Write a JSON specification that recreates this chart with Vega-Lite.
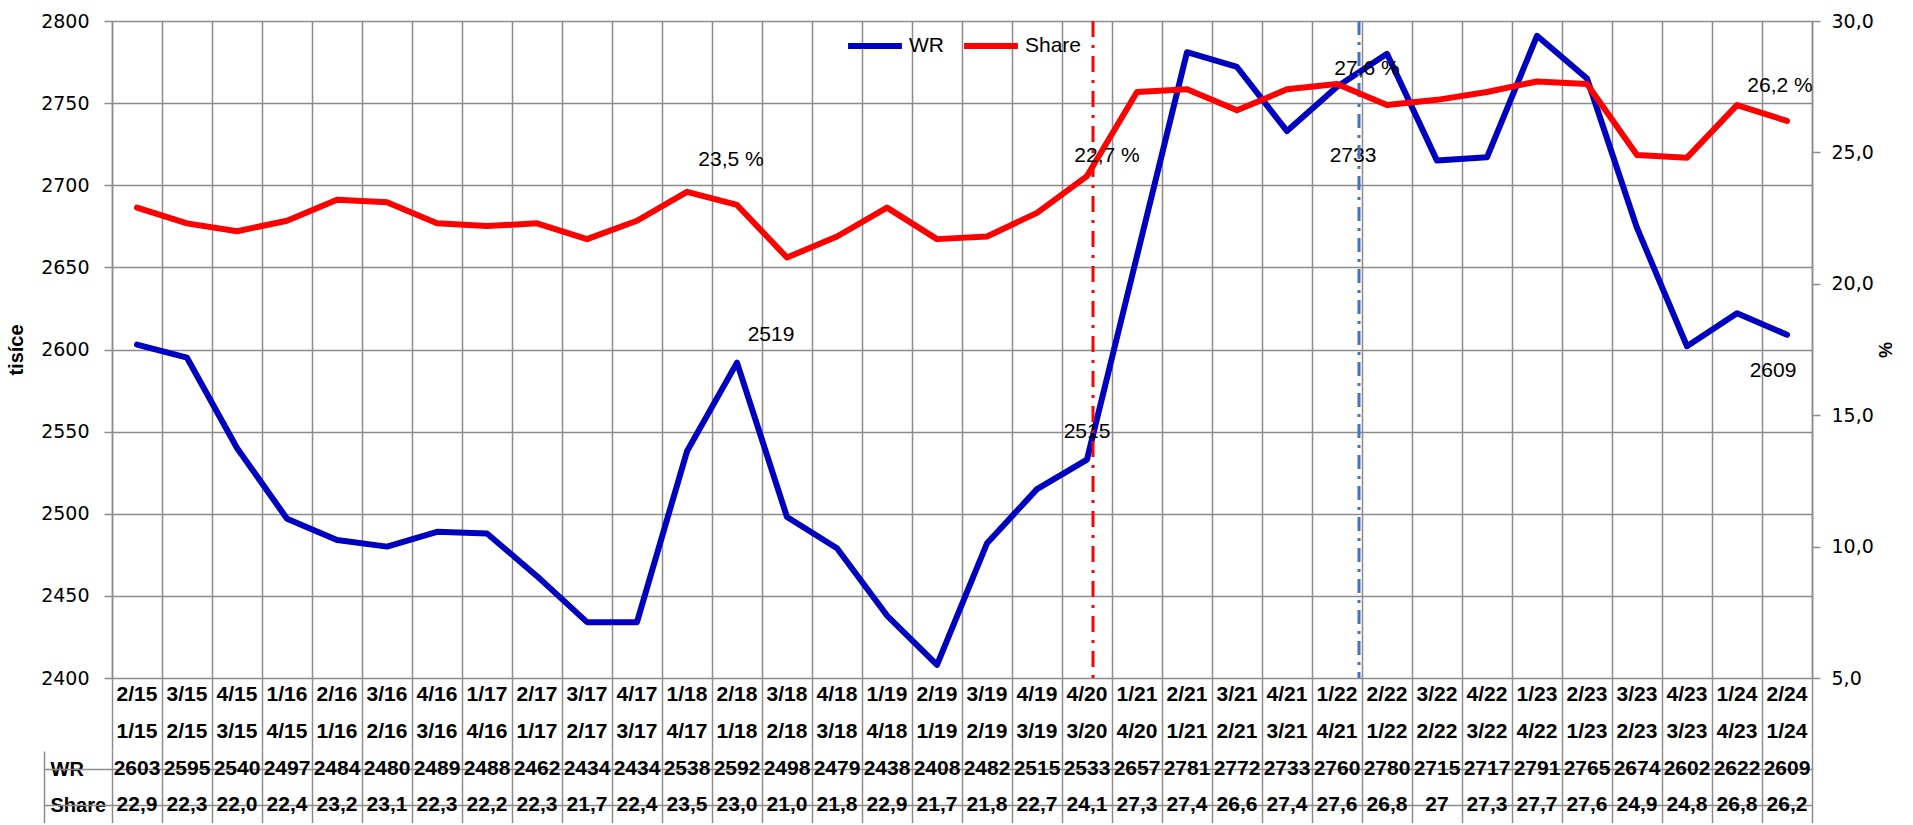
{
  "$schema": "https://vega.github.io/schema/vega-lite/v6.json",
  "padding": {"left": 6, "top": 12, "right": 0, "bottom": 0},
  "spacing": 0,
  "bounds": "flush",
  "datasets": {
    "main": [
      {"q": "2/15", "p": "1/15", "WR": 2603, "Share": 22.9, "ShareLabel": "22,9"},
      {"q": "3/15", "p": "2/15", "WR": 2595, "Share": 22.3, "ShareLabel": "22,3"},
      {"q": "4/15", "p": "3/15", "WR": 2540, "Share": 22.0, "ShareLabel": "22,0"},
      {"q": "1/16", "p": "4/15", "WR": 2497, "Share": 22.4, "ShareLabel": "22,4"},
      {"q": "2/16", "p": "1/16", "WR": 2484, "Share": 23.2, "ShareLabel": "23,2"},
      {"q": "3/16", "p": "2/16", "WR": 2480, "Share": 23.1, "ShareLabel": "23,1"},
      {"q": "4/16", "p": "3/16", "WR": 2489, "Share": 22.3, "ShareLabel": "22,3"},
      {"q": "1/17", "p": "4/16", "WR": 2488, "Share": 22.2, "ShareLabel": "22,2"},
      {"q": "2/17", "p": "1/17", "WR": 2462, "Share": 22.3, "ShareLabel": "22,3"},
      {"q": "3/17", "p": "2/17", "WR": 2434, "Share": 21.7, "ShareLabel": "21,7"},
      {"q": "4/17", "p": "3/17", "WR": 2434, "Share": 22.4, "ShareLabel": "22,4"},
      {"q": "1/18", "p": "4/17", "WR": 2538, "Share": 23.5, "ShareLabel": "23,5"},
      {"q": "2/18", "p": "1/18", "WR": 2592, "Share": 23.0, "ShareLabel": "23,0"},
      {"q": "3/18", "p": "2/18", "WR": 2498, "Share": 21.0, "ShareLabel": "21,0"},
      {"q": "4/18", "p": "3/18", "WR": 2479, "Share": 21.8, "ShareLabel": "21,8"},
      {"q": "1/19", "p": "4/18", "WR": 2438, "Share": 22.9, "ShareLabel": "22,9"},
      {"q": "2/19", "p": "1/19", "WR": 2408, "Share": 21.7, "ShareLabel": "21,7"},
      {"q": "3/19", "p": "2/19", "WR": 2482, "Share": 21.8, "ShareLabel": "21,8"},
      {"q": "4/19", "p": "3/19", "WR": 2515, "Share": 22.7, "ShareLabel": "22,7"},
      {"q": "4/20", "p": "3/20", "WR": 2533, "Share": 24.1, "ShareLabel": "24,1"},
      {"q": "1/21", "p": "4/20", "WR": 2657, "Share": 27.3, "ShareLabel": "27,3"},
      {"q": "2/21", "p": "1/21", "WR": 2781, "Share": 27.4, "ShareLabel": "27,4"},
      {"q": "3/21", "p": "2/21", "WR": 2772, "Share": 26.6, "ShareLabel": "26,6"},
      {"q": "4/21", "p": "3/21", "WR": 2733, "Share": 27.4, "ShareLabel": "27,4"},
      {"q": "1/22", "p": "4/21", "WR": 2760, "Share": 27.6, "ShareLabel": "27,6"},
      {"q": "2/22", "p": "1/22", "WR": 2780, "Share": 26.8, "ShareLabel": "26,8"},
      {"q": "3/22", "p": "2/22", "WR": 2715, "Share": 27.0, "ShareLabel": "27"},
      {"q": "4/22", "p": "3/22", "WR": 2717, "Share": 27.3, "ShareLabel": "27,3"},
      {"q": "1/23", "p": "4/22", "WR": 2791, "Share": 27.7, "ShareLabel": "27,7"},
      {"q": "2/23", "p": "1/23", "WR": 2765, "Share": 27.6, "ShareLabel": "27,6"},
      {"q": "3/23", "p": "2/23", "WR": 2674, "Share": 24.9, "ShareLabel": "24,9"},
      {"q": "4/23", "p": "3/23", "WR": 2602, "Share": 24.8, "ShareLabel": "24,8"},
      {"q": "1/24", "p": "4/23", "WR": 2622, "Share": 26.8, "ShareLabel": "26,8"},
      {"q": "2/24", "p": "1/24", "WR": 2609, "Share": 26.2, "ShareLabel": "26,2"}
    ],
    "notes": [
      {"label": "2519", "q": "3/18", "v": 2609},
      {"label": "2515", "q": "4/20", "v": 2550},
      {"label": "2733", "q": "1/22", "v": 2718},
      {"label": "2609", "q": "2/24", "v": 2587},
      {"label": "23,5 %", "q": "2/18", "v": 24.71},
      {"label": "22,7 %", "q": "4/20", "v": 24.86},
      {"label": "27,6 %", "q": "2/22", "v": 28.17},
      {"label": "26,2 %", "q": "2/24", "v": 27.53}
    ]
  },
  "vconcat": [
    {
      "width": 1700,
      "height": 657,
      "layer": [
        {
          "layer": [
            {
              "data": {"name": "main"},
              "mark": {"type": "line", "strokeWidth": 6, "strokeCap": "round", "strokeJoin": "round"},
              "encoding": {
                "x": {
                  "field": "q", "type": "nominal", "bandPosition": 0.5,
                  "scale": {"type": "band", "paddingInner": 0, "paddingOuter": 0,
                    "domain": ["2/15","3/15","4/15","1/16","2/16","3/16","4/16","1/17","2/17","3/17","4/17","1/18","2/18","3/18","4/18","1/19","2/19","3/19","4/19","4/20","1/21","2/21","3/21","4/21","1/22","2/22","3/22","4/22","1/23","2/23","3/23","4/23","1/24","2/24"]},
                  "axis": {"orient": "bottom", "title": null, "labels": false, "ticks": false, "domain": false, "grid": true, "tickBand": "extent", "minExtent": 0, "maxExtent": 0, "labelPadding": 0}
                },
                "y": {
                  "field": "WR", "type": "quantitative",
                  "scale": {"domain": [2400, 2800], "nice": false, "zero": false},
                  "axis": {
                    "orient": "left", "values": [2400, 2450, 2500, 2550, 2600, 2650, 2700, 2750, 2800],
                    "format": "d",
                    "grid": true, "tickSize": 8, "labelPadding": 15,
                    "labelFont": "DejaVu Sans", "labelFontSize": 19,
                    "title": "tisíce", "titleFont": "Liberation Sans", "titleFontSize": 20, "titleFontWeight": "bold", "titlePadding": 14
                  }
                },
                "color": {
                  "datum": "WR",
                  "scale": {"domain": ["WR", "Share"], "range": ["#0000C0", "#FF0000"]},
                  "legend": {
                    "title": null, "orient": "none", "legendX": 733, "legendY": -5, "direction": "horizontal",
                    "symbolType": "stroke", "symbolSize": 2900, "symbolStrokeWidth": 6,
                    "labelFont": "Liberation Sans", "labelFontSize": 21, "labelColor": "#000",
                    "labelOffset": 4, "columnPadding": 8, "padding": 0
                  }
                }
              }
            },
            {
              "data": {"name": "notes"},
              "transform": [{"filter": "datum.label == '2519'"}],
              "mark": {"type": "text", "font": "Liberation Sans", "fontSize": 21, "baseline": "middle", "color": "#000"},
              "encoding": {
                "x": {"field": "q", "type": "nominal", "bandPosition": 0.18},
                "y": {"field": "v", "type": "quantitative"},
                "text": {"field": "label"}
              }
            },
            {
              "data": {"name": "notes"},
              "transform": [{"filter": "datum.label == '2515'"}],
              "mark": {"type": "text", "font": "Liberation Sans", "fontSize": 21, "baseline": "middle", "color": "#000"},
              "encoding": {
                "x": {"field": "q", "type": "nominal", "bandPosition": 0.5},
                "y": {"field": "v", "type": "quantitative"},
                "text": {"field": "label"}
              }
            },
            {
              "data": {"name": "notes"},
              "transform": [{"filter": "datum.label == '2733'"}],
              "mark": {"type": "text", "font": "Liberation Sans", "fontSize": 21, "baseline": "middle", "color": "#000"},
              "encoding": {
                "x": {"field": "q", "type": "nominal", "bandPosition": 0.82},
                "y": {"field": "v", "type": "quantitative"},
                "text": {"field": "label"}
              }
            },
            {
              "data": {"name": "notes"},
              "transform": [{"filter": "datum.label == '2609'"}],
              "mark": {"type": "text", "font": "Liberation Sans", "fontSize": 21, "baseline": "middle", "color": "#000"},
              "encoding": {
                "x": {"field": "q", "type": "nominal", "bandPosition": 0.22},
                "y": {"field": "v", "type": "quantitative"},
                "text": {"field": "label"}
              }
            },
            {
              "data": {"values": [{"q": "4/20"}]},
              "mark": {"type": "rule", "color": "#FF0000", "strokeWidth": 3, "strokeDash": [16, 8, 3, 8]},
              "encoding": {"x": {"field": "q", "type": "nominal", "bandPosition": 0.62}}
            },
            {
              "data": {"values": [{"q": "1/22"}]},
              "mark": {"type": "rule", "color": "#4472C4", "strokeWidth": 3, "strokeDash": [14, 7, 3, 7]},
              "encoding": {"x": {"field": "q", "type": "nominal", "bandPosition": 0.94}}
            }
          ]
        },
        {
          "layer": [
            {
              "data": {"name": "main"},
              "mark": {"type": "line", "strokeWidth": 6, "strokeCap": "round", "strokeJoin": "round"},
              "encoding": {
                "x": {"field": "q", "type": "nominal", "bandPosition": 0.5},
                "y": {
                  "field": "Share", "type": "quantitative",
                  "scale": {"domain": [5, 30], "nice": false, "zero": false},
                  "axis": {
                    "orient": "right", "values": [5, 10, 15, 20, 25, 30], "grid": false,
                    "tickSize": 8, "labelPadding": 11,
                    "labelFont": "DejaVu Sans", "labelFontSize": 19,
                    "labelExpr": "replace(format(datum.value, '.1f'), '.', ',')",
                    "title": "%", "titleFont": "Liberation Sans", "titleFontSize": 18, "titleFontWeight": "bold", "titlePadding": 1
                  }
                },
                "color": {"datum": "Share"}
              }
            },
            {
              "data": {"name": "notes"},
              "transform": [{"filter": "datum.label == '23,5 %'"}],
              "mark": {"type": "text", "font": "Liberation Sans", "fontSize": 21, "baseline": "middle", "color": "#000"},
              "encoding": {
                "x": {"field": "q", "type": "nominal", "bandPosition": 0.38},
                "y": {"field": "v", "type": "quantitative"},
                "text": {"field": "label"}
              }
            },
            {
              "data": {"name": "notes"},
              "transform": [{"filter": "datum.label == '22,7 %'"}],
              "mark": {"type": "text", "font": "Liberation Sans", "fontSize": 21, "baseline": "middle", "color": "#000"},
              "encoding": {
                "x": {"field": "q", "type": "nominal", "bandPosition": 0.9},
                "y": {"field": "v", "type": "quantitative"},
                "text": {"field": "label"}
              }
            },
            {
              "data": {"name": "notes"},
              "transform": [{"filter": "datum.label == '27,6 %'"}],
              "mark": {"type": "text", "font": "Liberation Sans", "fontSize": 21, "baseline": "middle", "color": "#000"},
              "encoding": {
                "x": {"field": "q", "type": "nominal", "bandPosition": 0.1},
                "y": {"field": "v", "type": "quantitative"},
                "text": {"field": "label"}
              }
            },
            {
              "data": {"name": "notes"},
              "transform": [{"filter": "datum.label == '26,2 %'"}],
              "mark": {"type": "text", "font": "Liberation Sans", "fontSize": 21, "baseline": "middle", "color": "#000"},
              "encoding": {
                "x": {"field": "q", "type": "nominal", "bandPosition": 0.36},
                "y": {"field": "v", "type": "quantitative"},
                "text": {"field": "label"}
              }
            }
          ]
        }
      ],
      "resolve": {"scale": {"y": "independent"}}
    },
    {
      "width": 1700,
      "height": 73,
      "data": {"name": "main"},
      "transform": [{"fold": ["q", "p"], "as": ["key", "val"]}],
      "mark": {"type": "text", "font": "Liberation Sans", "fontSize": 21, "fontWeight": "bold", "color": "#000", "baseline": "middle", "dy": -1},
      "encoding": {
        "x": {
          "field": "q", "type": "nominal", "bandPosition": 0.5,
          "scale": {"type": "band", "paddingInner": 0, "paddingOuter": 0,
            "domain": ["2/15","3/15","4/15","1/16","2/16","3/16","4/16","1/17","2/17","3/17","4/17","1/18","2/18","3/18","4/18","1/19","2/19","3/19","4/19","4/20","1/21","2/21","3/21","4/21","1/22","2/22","3/22","4/22","1/23","2/23","3/23","4/23","1/24","2/24"]},
          "axis": {"orient": "bottom", "title": null, "labels": false, "ticks": false, "domain": false, "grid": true, "tickBand": "extent", "minExtent": 0, "maxExtent": 0, "labelPadding": 0}
        },
        "y": {"field": "key", "type": "nominal", "scale": {"domain": ["q", "p"], "paddingInner": 0, "paddingOuter": 0}, "axis": null},
        "text": {"field": "val", "type": "nominal"}
      }
    },
    {
      "width": 1700,
      "height": 72,
      "data": {"name": "main"},
      "transform": [{"fold": ["WR", "ShareLabel"], "as": ["key", "val"]}],
      "layer": [
        {
          "mark": {"type": "text", "font": "Liberation Sans", "fontSize": 21, "fontWeight": "bold", "color": "#000", "baseline": "middle"},
          "encoding": {
            "x": {
              "field": "q", "type": "nominal", "bandPosition": 0.5,
              "scale": {"type": "band", "paddingInner": 0, "paddingOuter": 0,
                "domain": ["2/15","3/15","4/15","1/16","2/16","3/16","4/16","1/17","2/17","3/17","4/17","1/18","2/18","3/18","4/18","1/19","2/19","3/19","4/19","4/20","1/21","2/21","3/21","4/21","1/22","2/22","3/22","4/22","1/23","2/23","3/23","4/23","1/24","2/24"]},
              "axis": {"orient": "bottom", "title": null, "labels": false, "ticks": false, "domain": false, "grid": true, "tickBand": "extent", "minExtent": 0, "maxExtent": 0, "labelPadding": 0}
            },
            "y": {
              "field": "key", "type": "nominal",
              "scale": {"domain": ["WR", "ShareLabel"], "paddingInner": 0, "paddingOuter": 0},
              "axis": {
                "orient": "left", "offset": 68, "title": null, "domain": true, "ticks": false, "grid": false,
                "labelAlign": "left", "labelPadding": -6, "labelFont": "Liberation Sans", "labelFontSize": 20, "labelFontWeight": "bold",
                "labelExpr": "datum.value == 'WR' ? 'WR' : 'Share'"
              }
            },
            "text": {"field": "val", "type": "nominal"}
          }
        },
        {
          "mark": {"type": "text", "opacity": 0},
          "encoding": {
            "x": {"field": "q", "type": "nominal", "bandPosition": 0.5},
            "y": {
              "field": "key", "type": "nominal",
              "scale": {"domain": ["WR", "ShareLabel"], "paddingInner": 0, "paddingOuter": 0},
              "axis": {
                "orient": "left", "offset": 0, "title": null, "domain": false, "labels": false,
                "ticks": true, "tickSize": 68, "grid": true, "bandPosition": 0
              }
            },
            "text": {"field": "val", "type": "nominal"}
          }
        }
      ],
      "resolve": {"scale": {"y": "independent"}, "axis": {"y": "independent"}}
    }
  ],
  "config": {
    "view": {"stroke": null},
    "font": "Liberation Sans",
    "axis": {
      "gridColor": "#8c8c8c", "gridWidth": 1.5, "gridOpacity": 1,
      "domainColor": "#8c8c8c", "domainWidth": 1.5,
      "tickColor": "#8c8c8c", "tickWidth": 1.5,
      "labelColor": "#000", "titleColor": "#000"
    }
  }
}
